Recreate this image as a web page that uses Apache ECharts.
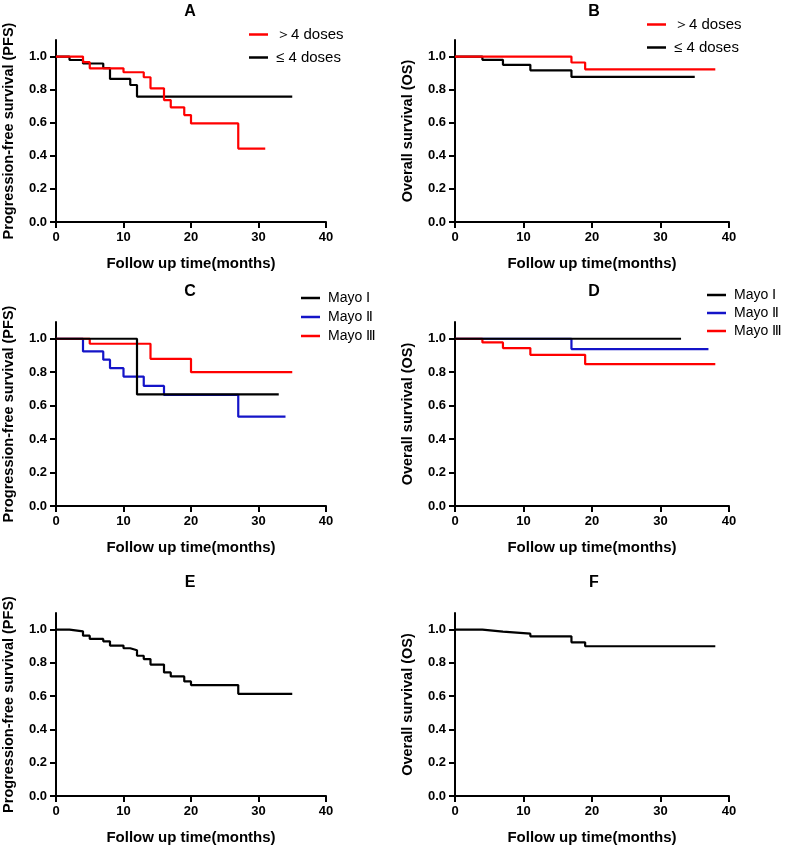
<!DOCTYPE html>
<html>
<head>
<meta charset="utf-8">
<script src="https://cdn.jsdelivr.net/npm/echarts@6/dist/echarts.min.js"></script>
<style>
  html, body { margin: 0; padding: 0; background: #fff; }
  #km-chart { width: 790px; height: 848px; }
</style>
</head>
<body>
<div id="km-chart"></div>
<script>
// Kaplan-Meier curves, values (time in months, survival fraction)
var xTicks = [0, 10, 20, 30, 40];
var yTicks = [0, 0.2, 0.4, 0.6, 0.8, 1.0];
var panelLetters = ['A', 'B', 'C', 'D', 'E', 'F'];
var dosesNames = ['＞4 doses', '≤ 4 doses'];
var mayoNames = ['Mayo Ⅰ', 'Mayo Ⅱ', 'Mayo Ⅲ'];

// A: PFS by doses
var aHighT = [0, 4, 5, 10, 13, 14, 16, 17, 19, 20, 27, 31];
var aHighS = [1, 0.966, 0.929, 0.905, 0.875, 0.808, 0.737, 0.693, 0.646, 0.596, 0.444, 0.444];
var aLowT = [0, 2, 4, 7, 8, 11, 12, 35];
var aLowS = [1, 0.979, 0.958, 0.93, 0.865, 0.828, 0.758, 0.758];

// B: OS by doses
var bHighT = [0, 17, 19, 38];
var bHighS = [1, 0.964, 0.923, 0.923];
var bLowT = [0, 4, 7, 11, 17, 35];
var bLowS = [1, 0.98, 0.95, 0.917, 0.877, 0.877];

// C: PFS by Mayo stage
var cMayo1T = [0, 12, 33];
var cMayo1S = [1, 0.667, 0.667];
var cMayo2T = [0, 4, 7, 8, 10, 13, 16, 27, 34];
var cMayo2S = [1, 0.924, 0.875, 0.824, 0.774, 0.718, 0.664, 0.534, 0.534];
var cMayo3T = [0, 5, 14, 20, 35];
var cMayo3S = [1, 0.97, 0.88, 0.80, 0.80];

// D: OS by Mayo stage
var dMayo1T = [0, 33];
var dMayo1S = [1, 1];
var dMayo2T = [0, 17, 37];
var dMayo2S = [1, 0.938, 0.938];
var dMayo3T = [0, 4, 7, 11, 19, 38];
var dMayo3S = [1, 0.978, 0.944, 0.904, 0.848, 0.848];

// E: PFS all patients
var eAllT = [0, 2, 4, 5, 7, 8, 10, 11, 12, 13, 14, 16, 17, 19, 20, 27, 35];
var eAllS = [1, 0.99, 0.964, 0.944, 0.93, 0.904, 0.888, 0.876, 0.843, 0.823, 0.79, 0.743, 0.719, 0.689, 0.667, 0.614, 0.614];

// F: OS all patients
var fAllT = [0, 4, 7, 11, 17, 19, 38];
var fAllS = [1, 0.988, 0.976, 0.96, 0.924, 0.90, 0.90];

var RED = '#ff0000', BLACK = '#000000', BLUE = '#1414c8';
var FONT = 'Liberation Sans, Arial, sans-serif';

function zip(t, s) {
    var out = [];
    for (var i = 0; i < t.length; i++) out.push([t[i], s[i]]);
    return out;
}

var grids = [
    {left: 53, top: 40, width: 273, height: 182},
    {left: 455, top: 40, width: 274, height: 182},
    {left: 52, top: 322, width: 274, height: 184},
    {left: 455, top: 322, width: 274, height: 184},
    {left: 53, top: 613, width: 273, height: 183},
    {left: 455, top: 613, width: 274, height: 183}
];
var yNames = ['Progression-free survival (PFS)', 'Overall survival (OS)'];
var titleCenters = [[190, 12], [594, 12], [190, 292], [594, 292], [190, 583], [594, 583]];

var xAxes = [], yAxes = [], graphics = [];
for (var g = 0; g < 6; g++) {
    xAxes.push({
        type: 'value', gridIndex: g, min: 0, max: 40, interval: 10,
        name: 'Follow up time(months)', nameLocation: 'middle', nameGap: 34,
        nameTextStyle: {fontFamily: FONT, fontWeight: 'bold', fontSize: 15, color: '#000'},
        axisLine: {show: true, onZero: false, lineStyle: {color: '#000', width: 2}},
        axisTick: {show: true, length: 6, lineStyle: {color: '#000', width: 2}},
        axisLabel: {fontFamily: FONT, fontWeight: 'bold', fontSize: 13, color: '#000', margin: 9},
        splitLine: {show: false}
    });
    yAxes.push({
        type: 'value', gridIndex: g, min: 0, max: 1.1,
        name: yNames[g % 2], nameLocation: 'middle', nameGap: 40,
        nameTextStyle: {fontFamily: FONT, fontWeight: 'bold', fontSize: 14.5, color: '#000'},
        axisLine: {show: true, onZero: false, lineStyle: {color: '#000', width: 2}},
        axisTick: {show: true, length: 6, customValues: yTicks, lineStyle: {color: '#000', width: 2}},
        axisLabel: {
            fontFamily: FONT, fontWeight: 'bold', fontSize: 13, color: '#000', margin: 9,
            customValues: yTicks,
            formatter: function (v) { return v.toFixed(1); }
        },
        splitLine: {show: false}
    });
    graphics.push({
        type: 'text', x: titleCenters[g][0], y: titleCenters[g][1],
        style: {
            text: panelLetters[g], fill: '#000', font: 'bold 16px ' + FONT,
            textAlign: 'center', textVerticalAlign: 'middle'
        }
    });
}

function km(name, t, s, color, idx) {
    return {
        name: name, type: 'line', step: 'end', showSymbol: false,
        xAxisIndex: idx, yAxisIndex: idx,
        data: zip(t, s),
        lineStyle: {color: color, width: 2.2},
        itemStyle: {color: color},
        emphasis: {disabled: true}
    };
}

var series = [
    km(dosesNames[1], aLowT, aLowS, BLACK, 0),
    km(dosesNames[0], aHighT, aHighS, RED, 0),
    km(dosesNames[1], bLowT, bLowS, BLACK, 1),
    km(dosesNames[0], bHighT, bHighS, RED, 1),
    km(mayoNames[1], cMayo2T, cMayo2S, BLUE, 2),
    km(mayoNames[2], cMayo3T, cMayo3S, RED, 2),
    km(mayoNames[0], cMayo1T, cMayo1S, BLACK, 2),
    km(mayoNames[1], dMayo2T, dMayo2S, BLUE, 3),
    km(mayoNames[2], dMayo3T, dMayo3S, RED, 3),
    km(mayoNames[0], dMayo1T, dMayo1S, BLACK, 3),
    km('All patients PFS', eAllT, eAllS, BLACK, 4),
    km('All patients OS', fAllT, fAllS, BLACK, 5)
];

function legendAt(names, left, top, gap, size) {
    return {
        orient: 'vertical', left: left, top: top, itemGap: gap,
        icon: 'rect', itemWidth: 19, itemHeight: 2.5,
        selectedMode: false,
        data: names.map(function (n) { return {name: n}; }),
        textStyle: {fontFamily: FONT, fontSize: size, color: '#000', padding: [0, 0, 0, 3]}
    };
}

var chart = echarts.init(document.getElementById('km-chart'));
var option = {
    animation: false,
    backgroundColor: '#fff',
    grid: grids,
    xAxis: xAxes,
    yAxis: yAxes,
    legend: [
        legendAt([dosesNames[0], dosesNames[1]], 244, 22, 8, 15),
        legendAt([dosesNames[0], dosesNames[1]], 642, 12, 8, 15),
        legendAt(mayoNames, 296, 286, 5, 14),
        legendAt(mayoNames, 702, 283, 4, 14)
    ],
    graphic: graphics,
    series: series
};
chart.setOption(option);
window.onresize = chart.resize;
</script>
</body>
</html>
